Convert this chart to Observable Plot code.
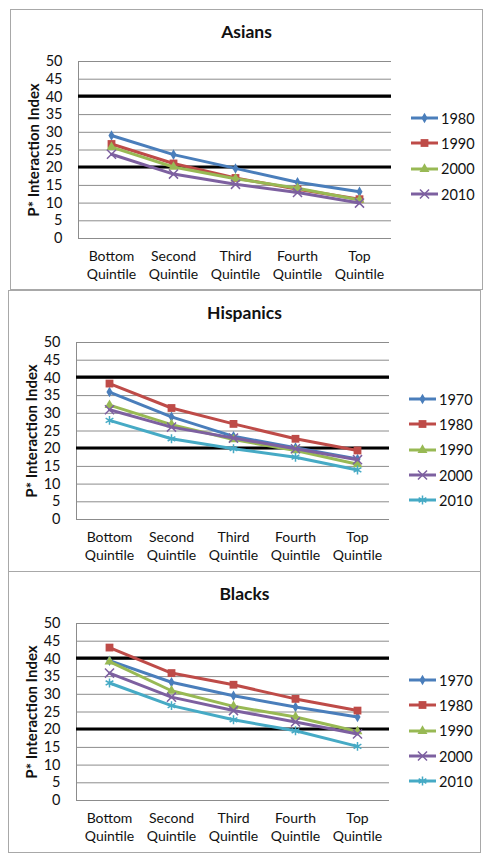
<!DOCTYPE html>
<html><head><meta charset="utf-8">
<script src="https://cdn.jsdelivr.net/npm/d3@7"></script>
<script src="https://cdn.jsdelivr.net/npm/@observablehq/plot@0.6"></script>
<style>
body{margin:0;background:#fff;font-family:Lato,sans-serif;color:#111;}
#root{position:relative;width:491px;height:863px;}
.panel{position:absolute;box-sizing:border-box;border:1px solid #a8a8a8;background:#fff;}
.title{position:absolute;left:0;right:0;top:11px;line-height:22px;text-align:center;font-weight:bold;font-size:17.5px;}
.legend{position:absolute;left:400px;top:95.5px;}
.legend .item{height:25.3px;display:flex;align-items:center;font-size:14.5px;}
.legend svg{margin-right:3px;}
.panel > svg{position:absolute;left:0;top:0;}
g[aria-label="y-axis label"] text{font-weight:bold;font-size:15px;}
</style></head><body><div id="root"></div>
<script>
const quintiles = ["Bottom Quintile","Second Quintile","Third Quintile","Fourth Quintile","Top Quintile"];
const yTicks = [0,5,10,15,20,25,30,35,40,45,50];
const refLines = [40.2, 20.2];

const asianYears = ["1980","1990","2000","2010"];
const asian1980 = [29.1, 23.7, 19.8, 15.9, 13.2];
const asian1990 = [26.7, 21.2, 17.1, 13.9, 11.1];
const asian2000 = [25.8, 20.2, 16.9, 14.2, 10.9];
const asian2010 = [23.8, 18.2, 15.3, 13.0, 10.0];

const hispanicYears = ["1970","1980","1990","2000","2010"];
const hispanic1970 = [36.0, 29.0, 23.5, 20.3, 17.1];
const hispanic1980 = [38.4, 31.5, 27.0, 22.8, 19.5];
const hispanic1990 = [32.3, 26.8, 22.6, 19.5, 15.6];
const hispanic2000 = [31.0, 26.1, 23.0, 20.0, 16.9];
const hispanic2010 = [28.0, 22.8, 20.0, 17.6, 14.0];

const blackYears = ["1970","1980","1990","2000","2010"];
const black1970 = [39.5, 33.4, 29.6, 26.4, 23.6];
const black1980 = [43.2, 36.0, 32.7, 28.7, 25.4];
const black1990 = [39.2, 31.0, 26.6, 23.6, 19.5];
const black2000 = [36.0, 29.2, 25.4, 22.2, 18.8];
const black2010 = [33.2, 26.8, 22.8, 19.7, 15.3];

// styles (by series order)
const colors = ["#4A7EBB", "#BE4B48", "#98B954", "#7D60A0", "#46AAC5"];
const symbols = ["diamond", "square", "triangle", "times", "asterisk"];
const symbolR = [3.2, 4.4, 3.7, 4.2, 4.2];
const strokeSymbols = new Set(["times", "asterisk"]);

const panels = [
  {title: "Asians", years: asianYears, series: [asian1980, asian1990, asian2000, asian2010], left: 10, top: 9, w: 473, h: 281},
  {title: "Hispanics", years: hispanicYears, series: [hispanic1970, hispanic1980, hispanic1990, hispanic2000, hispanic2010], left: 8, top: 290, w: 473, h: 282},
  {title: "Blacks", years: blackYears, series: [black1970, black1980, black1990, black2000, black2010], left: 8, top: 571, w: 473, h: 282}
];

const root = document.getElementById("root");

function symbolPath(name, r) {
  const map = {diamond: d3.symbolDiamond, square: d3.symbolSquare, triangle: d3.symbolTriangle, times: d3.symbolTimes, asterisk: d3.symbolAsterisk};
  return d3.symbol(map[name], Math.PI * r * r)();
}

for (const p of panels) {
  const div = document.createElement("div");
  div.className = "panel";
  Object.assign(div.style, {left: p.left + "px", top: p.top + "px", width: p.w + "px", height: p.h + "px"});
  root.appendChild(div);

  const rows = [];
  p.years.forEach((yr, i) => p.series[i].forEach((v, j) => rows.push({year: yr, idx: i, q: quintiles[j], v})));

  const W = p.w - 2, H = p.h - 2;
  const marks = [
    Plot.gridY(yTicks, {stroke: "#8c8c8c", strokeOpacity: 1, strokeWidth: 1}),
    Plot.frame({anchor: "left", stroke: "#8c8c8c"}),
    Plot.ruleY(refLines, {stroke: "#000", strokeWidth: 3.2}),
    Plot.axisY(yTicks, {tickSize: 0, tickPadding: 16, fontSize: 14.5, label: "P* Interaction Index", labelAnchor: "center", labelArrow: false, labelOffset: 50}),
    Plot.axisX({tickSize: 0, tickPadding: 10, fontSize: 14, lineHeight: 1.28, tickFormat: d => d.replace(" ", "\n"), label: null})
  ];
  p.years.forEach((yr, i) => {
    const data = rows.filter(d => d.idx === i);
    marks.push(Plot.line(data, {x: "q", y: "v", stroke: colors[i], strokeWidth: 3}));
    const sym = symbols[i];
    if (strokeSymbols.has(sym)) {
      marks.push(Plot.dot(data, {x: "q", y: "v", symbol: () => sym, r: symbolR[i], stroke: colors[i], strokeWidth: 1.5, fill: "none"}));
    } else {
      marks.push(Plot.dot(data, {x: "q", y: "v", symbol: () => sym, r: symbolR[i], fill: colors[i], stroke: "none"}));
    }
  });

  const chart = Plot.plot({
    width: W, height: H,
    marginLeft: 67, marginRight: W - 67 - 313, marginTop: 51, marginBottom: H - 51 - 177,
    style: {fontFamily: "Lato, sans-serif", fontSize: "14px", color: "#111", background: "transparent"},
    x: {type: "point", domain: quintiles, padding: 0.5, axis: null},
    y: {domain: [0, 50], axis: null},
    symbol: {type: "identity"},
    marks
  });
  div.appendChild(chart);

  const t = document.createElement("div");
  t.className = "title";
  t.textContent = p.title;
  div.appendChild(t);

  const lg = document.createElement("div");
  lg.className = "legend";
  p.years.forEach((yr, i) => {
    const it = document.createElement("div");
    it.className = "item";
    const sym = symbols[i];
    const fillAttr = strokeSymbols.has(sym) ? `fill="none" stroke="${colors[i]}" stroke-width="1.5"` : `fill="${colors[i]}"`;
    it.innerHTML = `<svg width="27" height="14" viewBox="0 0 27 14"><line x1="0" x2="27" y1="7" y2="7" stroke="${colors[i]}" stroke-width="3"/><path transform="translate(13.5,7)" d="${symbolPath(sym, symbolR[i])}" ${fillAttr}/></svg><span>${yr}</span>`;
    lg.appendChild(it);
  });
  div.appendChild(lg);
}
</script></body></html>
